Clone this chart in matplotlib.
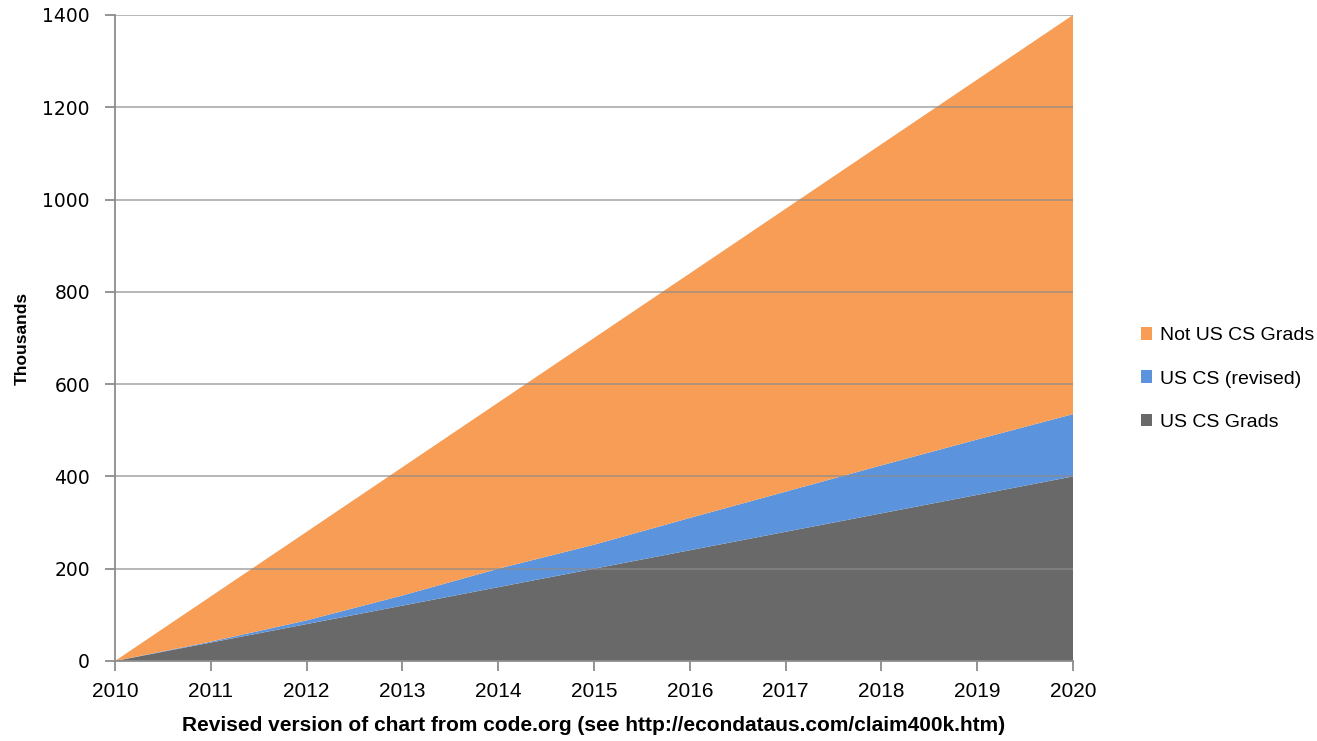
import matplotlib
matplotlib.use("Agg")
import matplotlib.pyplot as plt
import numpy as np

years = [2010, 2011, 2012, 2013, 2014, 2015, 2016, 2017, 2018, 2019, 2020]
us_cs_grads = [0, 40, 80, 120, 160, 200, 240, 280, 320, 360, 400]
us_cs_revised = [0, 2, 8, 22, 40, 52, 70, 87, 104, 120, 135]
total = [0, 140, 280, 420, 560, 700, 840, 980, 1120, 1260, 1400]
not_us_cs = [t - a - b for t, a, b in zip(total, us_cs_grads, us_cs_revised)]

labels = ["US CS Grads", "US CS (revised)", "Not US CS Grads"]
colors = ["#696969", "#5B93DC", "#F79D55"]
yticks = [0, 200, 400, 600, 800, 1000, 1200, 1400]

fig = plt.figure(figsize=(13.17, 7.41), dpi=100)
ax = fig.add_axes([115/1317, 1 - 661/741, (1073-115)/1317, (661-15)/741])

polys = ax.stackplot(years, us_cs_grads, us_cs_revised, not_us_cs,
                     colors=colors, labels=labels, linewidth=0, zorder=2)

ax.set_xlim(2010, 2020)
ax.set_ylim(0, 1400)
ax.set_xticks(years)
ax.set_yticks(yticks)
ax.grid(axis="y", color="#8C8C8C", linewidth=1.1, alpha=0.8, zorder=3)
ax.set_axisbelow(False)
for s in ["top", "right"]:
    ax.spines[s].set_visible(False)
for s in ["left", "bottom"]:
    ax.spines[s].set_color("#8C8C8C")
    ax.spines[s].set_linewidth(1.3)
    ax.spines[s].set_zorder(4)
ax.tick_params(axis="both", color="#8C8C8C", length=7, width=1.3, direction="out")
ax.tick_params(axis="y", labelsize=13.5, pad=11)
ax.tick_params(axis="x", labelsize=15, pad=8)
for lbl in ax.get_yticklabels():
    lbl.set_family("DejaVu Sans")
for lbl in ax.get_xticklabels():
    lbl.set_family("Liberation Sans")

ax.set_xlabel("Revised version of chart from code.org (see http://econdataus.com/claim400k.htm)",
              fontsize=15, fontweight="bold", family="Liberation Sans", labelpad=11)
ax.set_ylabel("Thousands", fontsize=12.5, fontweight="bold", family="Liberation Sans", labelpad=9)

handles, labs = ax.get_legend_handles_labels()
leg = fig.legend(handles[::-1], labs[::-1], loc="center left",
                 bbox_to_anchor=(1133/1317, 1 - 379/741), frameon=False,
                 prop={"family": "Liberation Sans", "size": 14},
                 borderpad=0.2, borderaxespad=0.2,
                 handlelength=0.6, handleheight=0.6, handletextpad=0.4, labelspacing=1.35)

fig.savefig("out.png", dpi=100)
